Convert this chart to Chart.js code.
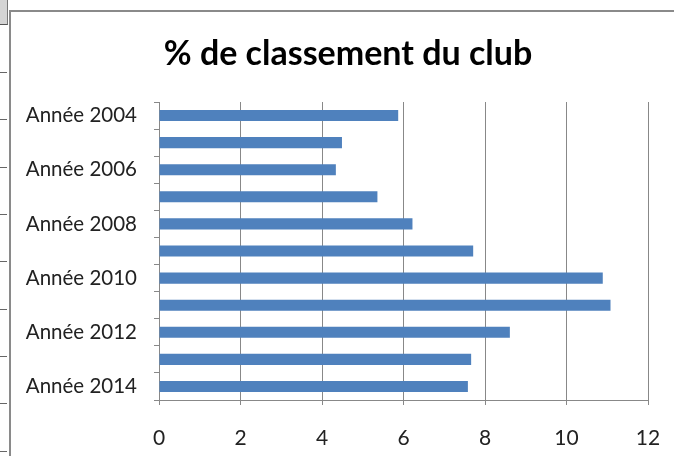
<!DOCTYPE html>
<html>
<head>
<meta charset="utf-8">
<script src="https://cdn.jsdelivr.net/npm/chart.js@4"></script>
<style>
    body { margin: 0; background: #fff; width: 674px; height: 456px; overflow: hidden; position: relative; }
    /* bandeau gauche du tableur */
    .strip { position: absolute; left: 0; top: 0; width: 7px; height: 24px; background: #d4d4d4; border-bottom: 1px solid #555; border-right: 1px solid #777; }
    .row { position: absolute; left: 0; width: 7px; height: 1px; background: #666; }
    #wrap { position: absolute; left: 9px; top: 10px; width: 674px; height: 444px; border-left: 2px solid #8a8a8a; border-top: 2px solid #8a8a8a; }
</style>
</head>
<body>
<div class="strip"></div>
<div id="rows"></div>
<div id="wrap"><canvas id="chart" width="674" height="444"></canvas></div>
<script>
    // lignes du tableur à gauche
    const rowLines = [72, 119, 167, 214, 261, 309, 356, 403, 451];
    rowLines.forEach(y => {
        const d = document.createElement('div');
        d.className = 'row';
        d.style.top = y + 'px';
        document.getElementById('rows').appendChild(d);
    });

    /*------------------------------------------------
        données
    ------------------------------------------------*/
    const titre = '% de classement du club';
    const annees = ['Année 2004', 'Année 2005', 'Année 2006', 'Année 2007', 'Année 2008', 'Année 2009',
                    'Année 2010', 'Année 2011', 'Année 2012', 'Année 2013', 'Année 2014'];
    const pourcentages = [5.87, 4.49, 4.34, 5.36, 6.22, 7.71, 10.89, 11.08, 8.61, 7.66, 7.58];
    const xTicks = [0, 2, 4, 6, 8, 10, 12];

    const police = 'Lato, "Open Sans", sans-serif';
    const gris = '#888888';

    // titre centré sur toute la zone du graphique (comme Excel)
    const titreCentre = {
        id: 'titreCentre',
        afterDraw(chart) {
            const c = chart.ctx;
            c.save();
            c.fillStyle = '#000';
            c.font = 'bold 34px ' + police;
            c.textAlign = 'center';
            c.textBaseline = 'middle';
            c.fillText(titre, chart.width / 2, 42);
            c.restore();
        }
    };

    const ctx = document.getElementById('chart').getContext('2d');
    new Chart(ctx, {
        type: 'bar',
        data: {
            labels: annees,
            datasets: [{
                label: titre,
                data: pourcentages,
                backgroundColor: '#4F81BD',
                borderWidth: 0,
                categoryPercentage: 1,
                barPercentage: 0.41
            }]
        },
        plugins: [titreCentre],
        options: {
            indexAxis: 'y',
            responsive: false,
            animation: false,
            layout: { autoPadding: false, padding: { left: 0, right: 37, top: 90, bottom: 0 } },
            plugins: {
                legend: { display: false },
                tooltip: { enabled: false },
                title: { display: false }
            },
            scales: {
                x: {
                    min: 0,
                    max: 12,
                    afterBuildTicks: s => { s.ticks = xTicks.map(v => ({ value: v })); },
                    afterFit: s => { s.height = 56; },
                    grid: { color: gris, lineWidth: 1, tickLength: 5 },
                    border: { color: gris },
                    ticks: { color: '#222', font: { family: police, size: 21 }, padding: 21 }
                },
                y: {
                    afterFit: s => { s.width = 148; },
                    grid: { drawOnChartArea: false, color: gris, tickLength: 5, offset: true },
                    border: { color: gris },
                    ticks: {
                        autoSkip: false,
                        color: '#222',
                        font: { family: police, size: 20.5 },
                        padding: 17,
                        callback: function (v, i) {
                            return i % 2 === 0 ? this.getLabelForValue(v) : '';
                        }
                    }
                }
            }
        }
    });
</script>
</body>
</html>
